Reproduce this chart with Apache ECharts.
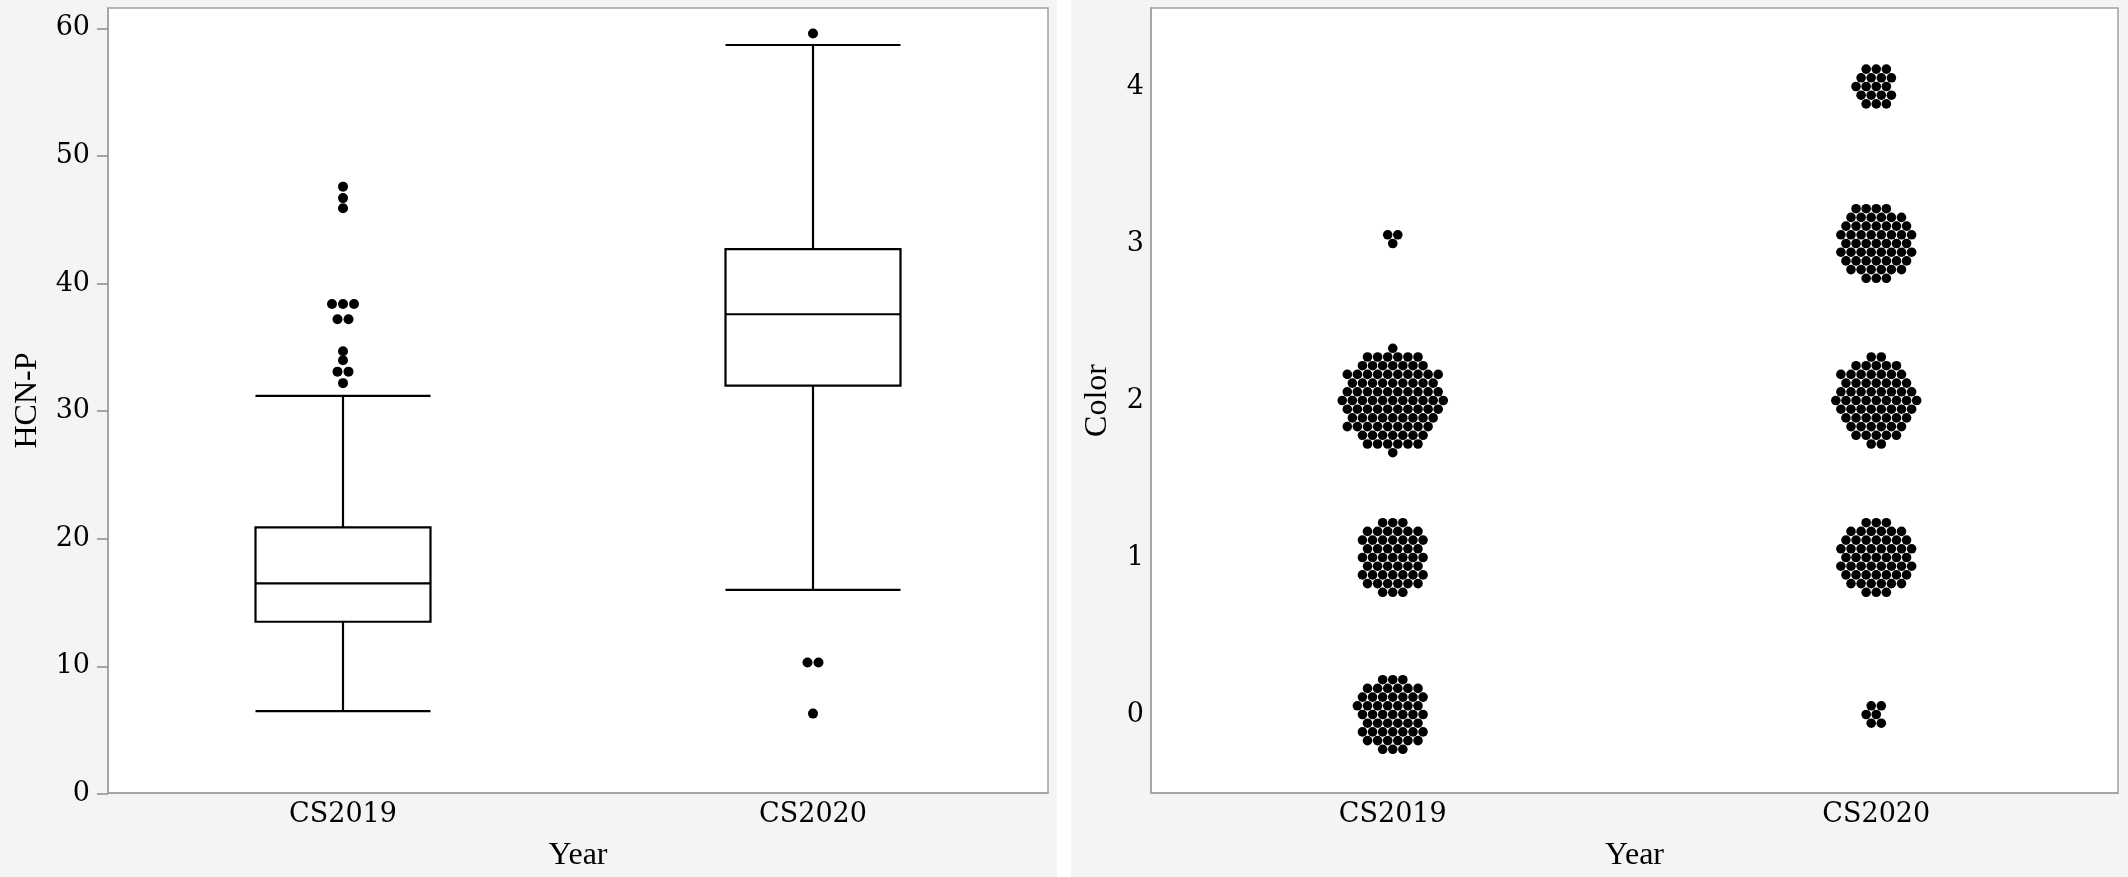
<!DOCTYPE html>
<html>
<head>
<meta charset="utf-8">
<script src="https://cdn.jsdelivr.net/npm/echarts@6/dist/echarts.min.js"></script>
<style>
html,body{margin:0;padding:0;background:#fff;}
#chart{width:2128px;height:877px;}
</style>
</head>
<body>
<div id="chart"></div>
<script>
// ---- data ----
const categories = ['CS2019', 'CS2020'];
// [lower whisker, Q1, median, Q3, upper whisker]
const hcnBox2019 = [6.5, 13.5, 16.5, 20.9, 31.2];
const hcnBox2020 = [16.0, 32.0, 37.6, 42.7, 58.7];
const hcnOutliers2019 = [47.6, 46.7, 45.9, 38.4, 38.4, 38.4, 37.2, 37.2, 34.7, 34.0, 33.1, 33.1, 32.2];
const hcnOutliers2020 = [59.6, 10.3, 10.3, 6.3];
const hcnAxisMax = 60;
const hcnTickStep = 10;
const colorValues = [0, 1, 2, 3, 4];
const colorCounts2019 = [52, 51, 96, 3, 0];
const colorCounts2020 = [6, 55, 66, 56, 18];
const colorTicks = [0, 1, 2, 3, 4];

// ---- helpers (layout of tied points) ----
function tieOffsets(values, step) {
  const groups = {};
  values.forEach(v => { groups[v] = (groups[v] || 0) + 1; });
  const seen = {};
  return values.map(v => {
    const k = groups[v];
    const i = seen[v] = (seen[v] === undefined ? 0 : seen[v] + 1);
    return (i - (k - 1) / 2) * step;
  });
}
function hexOffsets(n, dx, dy) {
  const dirs = [[1,0],[1,-1],[0,-1],[-1,0],[-1,1],[0,1]];
  const toPx = (q, r) => [dx * (q + r / 2), dy * r];
  const out = [];
  if (n <= 0) return out;
  out.push([0, 0]);
  let k = 1;
  while (out.length < n) {
    let q = -k, r = k;
    const ring = [];
    for (let i = 0; i < 6; i++) {
      for (let j = 0; j < k; j++) {
        ring.push(toPx(q, r));
        q += dirs[i][0]; r += dirs[i][1];
      }
    }
    const need = n - out.length;
    if (need < ring.length) {
      ring.sort((a, b) => {
        const da = Math.hypot(a[0], a[1]), db = Math.hypot(b[0], b[1]);
        if (Math.abs(da - db) > 0.01) return da - db;
        if (Math.abs(a[1] - b[1]) > 0.01) return a[1] - b[1];
        return a[0] - b[0];
      });
    }
    for (let i = 0; i < Math.min(need, ring.length); i++) out.push(ring[i]);
    k++;
  }
  return out;
}

// ---- build series data ----
const outlierData = [];
[hcnOutliers2019, hcnOutliers2020].forEach((vals, ci) => {
  const offs = tieOffsets(vals, 11);
  vals.forEach((v, i) => outlierData.push({ value: [ci, v], symbolOffset: [offs[i], 0] }));
});
const dotData = [];
[colorCounts2019, colorCounts2020].forEach((counts, ci) => {
  counts.forEach((n, vi) => {
    hexOffsets(n, 10.1, 8.7).forEach(o => {
      dotData.push({ value: [ci, colorValues[vi]], symbolOffset: o });
    });
  });
});

const axisGray = '#a0a0a0';
const tickFont = { fontFamily: 'DejaVu Serif', fontSize: 27, color: '#000' };
const nameFont = { fontFamily: 'Liberation Serif', fontSize: 32, color: '#000' };

// left panel: frame grid spans a little above 60; data grid spans exactly 0..60
const frameTop = 8, frameBottom = 794, frameMaxValue = 61.6;
const dataTop = frameBottom - (frameBottom - frameTop) * hcnAxisMax / frameMaxValue;

const chart = echarts.init(document.getElementById('chart'));
chart.setOption({
  backgroundColor: '#f4f4f4',
  animation: false,
  graphic: [{ type: 'rect', shape: { x: 1057, y: 0, width: 14, height: 877 }, style: { fill: '#ffffff' } }],
  grid: [
    { left: 108, top: frameTop, width: 940, height: frameBottom - frameTop, show: true, backgroundColor: '#fff', borderColor: axisGray, borderWidth: 1.5 },
    { left: 1151, top: 8, width: 967, height: 787, show: true, backgroundColor: '#fff', borderColor: axisGray, borderWidth: 1.5 },
    { left: 108, top: dataTop, width: 940, height: frameBottom - dataTop, show: false }
  ],
  xAxis: [
    { type: 'category', gridIndex: 0, data: categories,
      axisLine: { onZero: false, lineStyle: { color: axisGray, width: 1.5 } }, axisTick: { show: false },
      axisLabel: Object.assign({ margin: 8 }, tickFont),
      name: 'Year', nameLocation: 'middle', nameGap: 47, nameTextStyle: nameFont },
    { type: 'category', gridIndex: 1, data: categories,
      axisLine: { onZero: false, lineStyle: { color: axisGray, width: 1.5 } }, axisTick: { show: false },
      axisLabel: Object.assign({ margin: 8 }, tickFont),
      name: 'Year', nameLocation: 'middle', nameGap: 47, nameTextStyle: nameFont },
    { type: 'category', gridIndex: 2, data: categories, show: false }
  ],
  yAxis: [
    { type: 'value', gridIndex: 0, min: 0, max: frameMaxValue,
      axisLine: { show: true, onZero: false, lineStyle: { color: axisGray, width: 1.5 } },
      axisTick: { show: false }, axisLabel: { show: false }, splitLine: { show: false },
      name: 'HCN-P', nameLocation: 'middle', nameGap: 64, nameTextStyle: nameFont },
    { type: 'value', gridIndex: 1, min: -0.5, max: 4.5,
      axisLine: { show: true, onZero: false, lineStyle: { color: axisGray, width: 1.5 } },
      axisTick: { show: false },
      axisLabel: Object.assign({ margin: 7, customValues: colorTicks }, tickFont),
      splitLine: { show: false },
      name: 'Color', nameLocation: 'middle', nameGap: 37, nameTextStyle: nameFont },
    { type: 'value', gridIndex: 2, min: 0, max: hcnAxisMax, interval: hcnTickStep,
      axisLine: { show: false, onZero: false },
      axisTick: { show: true, inside: false, length: 11, lineStyle: { color: '#8c8c8c', width: 1.5 } },
      axisLabel: Object.assign({ margin: 18 }, tickFont),
      splitLine: { show: false } }
  ],
  series: [
    { type: 'boxplot', xAxisIndex: 2, yAxisIndex: 2, data: [hcnBox2019, hcnBox2020],
      boxWidth: [175, 175],
      itemStyle: { color: '#fff', borderColor: '#000', borderWidth: 2.2 } },
    { type: 'scatter', xAxisIndex: 2, yAxisIndex: 2, data: outlierData,
      symbol: 'circle', symbolSize: 10, itemStyle: { color: '#000', opacity: 1 } },
    { type: 'scatter', xAxisIndex: 1, yAxisIndex: 1, data: dotData,
      symbol: 'circle', symbolSize: 9.6, itemStyle: { color: '#000', opacity: 1 } }
  ]
});
</script>
</body>
</html>
